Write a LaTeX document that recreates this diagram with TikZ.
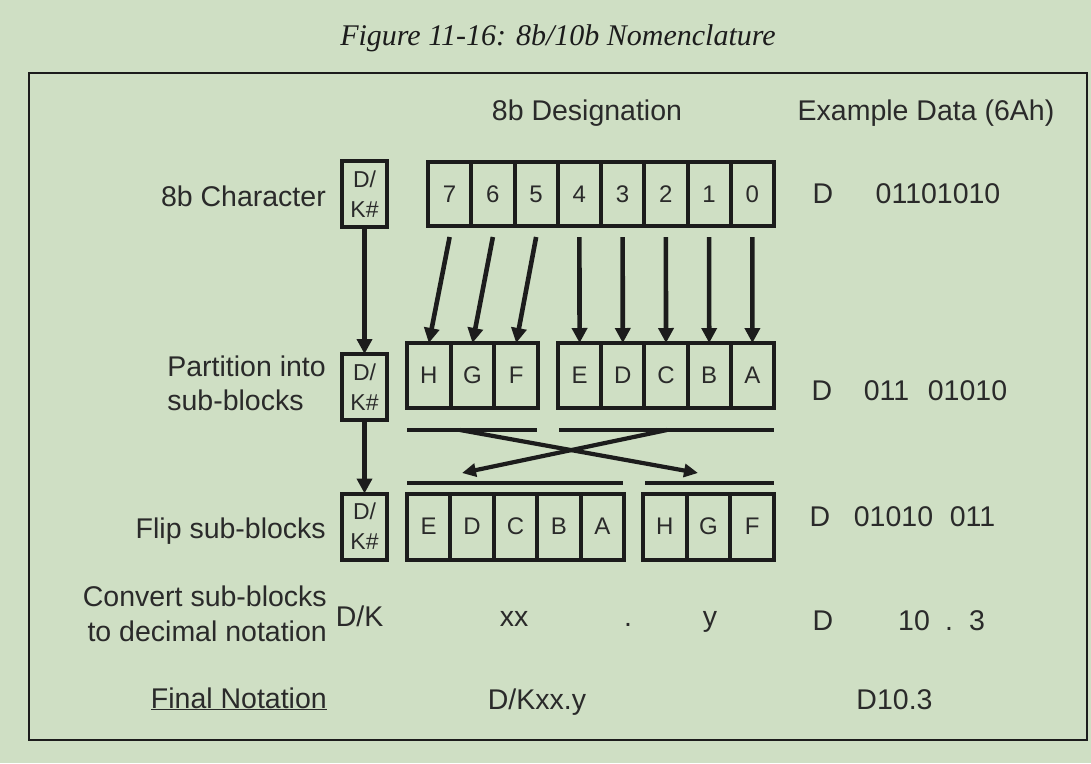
\documentclass[tikz,border=0pt]{standalone}
\usepackage{fontspec}
\newfontfamily\sans{Liberation Sans}
\newfontfamily\titlefont{Liberation Serif}
\usetikzlibrary{arrows.meta,calc}
\definecolor{bg}{RGB}{207,223,196}
\definecolor{ink}{RGB}{28,28,28}
\definecolor{txt}{RGB}{42,42,42}
\begin{document}
\begin{tikzpicture}[x=1pt,y=-1pt,
  lbl/.style={font=\sans\fontsize{28.5}{35}\selectfont, text=txt, inner sep=0pt, anchor=base},
  cell/.style={draw=ink, line width=4pt, inner sep=0pt, outer sep=0pt,
    font=\sans\fontsize{24}{30}\selectfont, text=txt},
  dkbox/.style={cell, minimum width=45pt, minimum height=66pt, align=center, font=\sans\fontsize{23}{30}\selectfont},
  arr/.style={draw=ink, line width=4.6pt, -{Triangle[length=15pt,width=15pt]}},
  xarr/.style={draw=ink, line width=4.2pt, -{Triangle[length=14pt,width=13pt]}},
  bar/.style={draw=ink, line width=4.2pt},
]
\useasboundingbox (0,0) rectangle (1091,763);
\fill[bg] (0,0) rectangle (1091,763);
\draw[ink, line width=2.8pt] (29,73) rectangle (1087,740);

% title
\node[font=\titlefont\itshape\fontsize{30}{32}\selectfont, text=ink, anchor=base, inner sep=0pt] (title) at (558,45) {Figure 11-16: 8b/10b Nomenclature};

% headers
\node[lbl] (hd1) at (587,120) {8b Designation};
\node[lbl] (hd2) at (926,120) {Example Data (6Ah)};

% row 1 cells
\foreach \n [count=\i from 0] in {7,6,5,4,3,2,1,0}
  \node[cell, minimum width=43.25pt, minimum height=64pt] (t\n) at ({428+43.25*(\i+0.5)},194) {\n};
% row 2 cells
\foreach \n/\l [count=\i from 0] in {h2/H,g2/G,f2/F}
  \node[cell, minimum width=43.67pt, minimum height=65pt] (\n) at ({407+43.67*(\i+0.5)},375.5) {\l};
\foreach \n/\l [count=\i from 0] in {e2/E,d2/D,c2/C,b2/B,a2/A}
  \node[cell, minimum width=43.2pt, minimum height=65pt] (\n) at ({558+43.2*(\i+0.5)},375.5) {\l};
% row 3 cells
\foreach \n/\l [count=\i from 0] in {e3/E,d3/D,c3/C,b3/B,a3/A}
  \node[cell, minimum width=43.4pt, minimum height=66pt] (\n) at ({407+43.4*(\i+0.5)},526.5) {\l};
\foreach \n/\l [count=\i from 0] in {h3/H,g3/G,f3/F}
  \node[cell, minimum width=43.67pt, minimum height=66pt] (\n) at ({643+43.67*(\i+0.5)},526.5) {\l};

% D/K# boxes
\node[dkbox] (dk1) at (364.5,194) {D/\\K\#};
\node[dkbox] (dk2) at (364.5,387) {D/\\K\#};
\node[dkbox] (dk3) at (364.5,526.5) {D/\\K\#};
\draw[arr] (dk1.south) -- (dk2.north);
\draw[arr] (dk2.south) -- (dk3.north);

% bit mapping arrows
\foreach \a/\b in {t7/h2,t6/g2,t5/f2,t4/e2,t3/d2,t2/c2,t1/b2,t0/a2}
  \draw[arr] ($(\a.south)+(0,11)$) -- (\b.north);

% bars and crossing arrows
\coordinate (ub1l) at (407,430); \coordinate (ub1r) at (537,430);
\coordinate (ub2l) at (559,430); \coordinate (ub2r) at (774,430);
\coordinate (lb1l) at (407,483); \coordinate (lb1r) at (623,483);
\coordinate (lb2l) at (645,483); \coordinate (lb2r) at (774,483);
\draw[bar] (ub1l) -- (ub1r);
\draw[bar] (ub2l) -- (ub2r);
\draw[bar] (lb1l) -- (lb1r);
\draw[bar] (lb2l) -- (lb2r);
\coordinate (x1s) at (460,430); \coordinate (x1e) at (698,473);
\coordinate (x2s) at (667,430); \coordinate (x2e) at (462,473);
\draw[xarr] (x1s) -- (x1e);
\draw[xarr] (x2s) -- (x2e);

% left labels
\node[lbl, anchor=base east] (l1) at (326,206) {8b Character};
\node[lbl, anchor=base east] (l2a) at (326,376) {Partition into};
\node[lbl, anchor=base west] (l2b) at (l2a.west |- 0,410) {sub-blocks};
\node[lbl, anchor=base east] (l3) at (326,538) {Flip sub-blocks};
\node[lbl, anchor=base east] (l4a) at (327,606) {Convert sub-blocks};
\node[lbl, anchor=base east] (l4b) at (327,641) {to decimal notation};
\node[lbl, anchor=base east] (l5) at (327,708) {\underline{Final Notation}};

% designation row 4 / final
\node[lbl] (dk4) at (359.5,626) {D/K};
\node[lbl] (xx) at (514,626) {xx};
\node[lbl] (dot1) at (628,626) {.};
\node[lbl] (yy) at (710,626) {y};
\node[lbl] (fin1) at (537,709) {D/Kxx.y};

% example data
\node[lbl] (e1d) at (823,203) {D};
\node[lbl] (e1v) at (938,203) {01101010};
\node[lbl] (e2d) at (822,400) {D};
\node[lbl] (e2a) at (886.5,400) {011};
\node[lbl] (e2b) at (967.5,400) {01010};
\node[lbl] (e3d) at (820,526) {D};
\node[lbl] (e3a) at (893.5,526) {01010};
\node[lbl] (e3b) at (972.5,526) {011};
\node[lbl] (e4d) at (823,630) {D};
\node[lbl] (e4a) at (914,630) {10};
\node[lbl] (e4b) at (949,630) {.};
\node[lbl] (e4c) at (977,630) {3};
\node[lbl] (fin2) at (894.5,709) {D10.3};
\end{tikzpicture}
\end{document}
